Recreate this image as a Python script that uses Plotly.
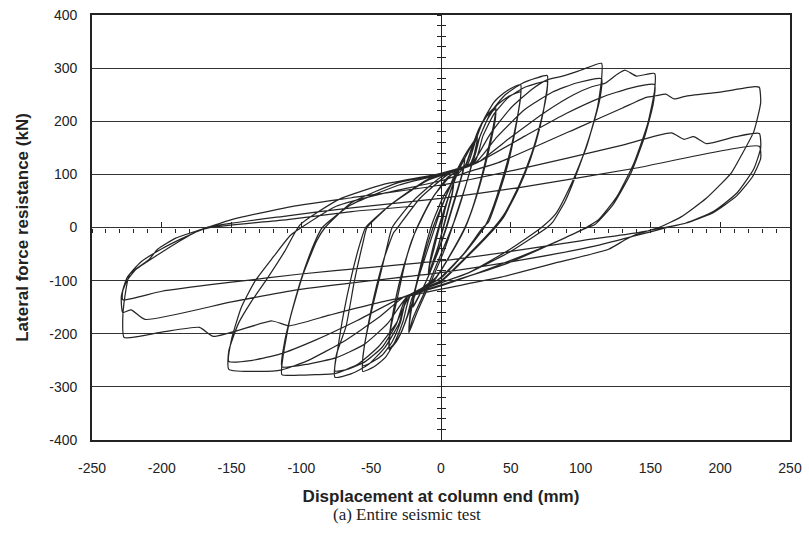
import plotly.graph_objects as go

# Hysteresis path (displacement mm, lateral force kN), grouped by amplitude
loop_09mm = [(0, 0), (3, 35), (6, 62), (9, 85),
             (8, 65), (5, 35), (2, 5), (-2, -35), (-6, -68), (-9, -90),
             (-8, -70), (-5, -40), (-2, -8), (2, 30), (6, 62), (9, 83),
             (8, 62), (5, 32), (2, 2), (-2, -35), (-6, -66), (-9, -88)]

loop_17mm = [(-8, -65), (-5, -30), (0, 15), (5, 55), (10, 90), (14, 115), (17, 131),
             (16, 108), (12, 70), (8, 35), (4, 0), (-2, -45), (-8, -85), (-14, -120), (-20, -150),
             (-19, -125), (-15, -85), (-10, -45), (-5, -5), (0, 35), (6, 75), (12, 108), (17, 128),
             (15, 100), (11, 65), (7, 30), (3, -5), (-3, -50), (-9, -92), (-15, -125), (-20, -147)]

loop_26mm = [(-19, -120), (-15, -85), (-10, -45), (-5, -5), (0, 35), (8, 85), (16, 125), (21, 150), (26, 173),
             (25, 148), (21, 108), (16, 65), (11, 25), (8, 0), (2, -45), (-6, -95), (-13, -135), (-18, -165), (-23, -198),
             (-22, -168), (-19, -125), (-15, -80), (-10, -35), (-5, 5), (2, 50), (10, 100), (18, 140), (26, 170),
             (24, 140), (20, 100), (15, 55), (10, 15), (7, -5), (0, -50), (-8, -100), (-15, -140), (-20, -170), (-23, -195)]

loop_39mm = [(-22, -160), (-18, -110), (-14, -65), (-10, -25), (-6, 10), (2, 60), (12, 100), (18, 118), (23, 155), (28, 190), (33, 212), (39, 226),
             (39, 205), (36, 165), (31, 110), (25, 55), (19, 10), (16, -8), (6, -55), (-5, -100), (-18, -125), (-23, -160), (-28, -195), (-32, -215), (-37, -230),
             (-37, -205), (-34, -155), (-29, -95), (-23, -42), (-18, -5), (-8, 48), (5, 95), (17, 115), (22, 150), (27, 185), (33, 210), (39, 222),
             (38, 198), (34, 150), (29, 95), (23, 40), (18, 5), (8, -45), (-4, -95), (-20, -128), (-24, -165), (-29, -200), (-33, -217), (-37, -227)]

loop_57mm = [(-36, -190), (-31, -130), (-26, -70), (-21, -25), (-16, 5), (-5, 60), (8, 100), (19, 118), (25, 165), (31, 205), (38, 236), (45, 253), (51, 263), (57, 269),
             (57, 245), (54, 198), (49, 138), (42, 75), (35, 22), (31, 0), (18, -45), (0, -95), (-22, -128), (-27, -175), (-33, -215), (-40, -245), (-48, -262), (-56, -271),
             (-56, -245), (-53, -195), (-48, -130), (-41, -60), (-34, -10), (-31, 0), (-15, 55), (5, 100), (21, 120), (27, 165), (33, 202), (40, 230), (48, 246), (57, 255),
             (56, 228), (53, 180), (48, 120), (41, 60), (34, 10), (30, 0), (16, -50), (-2, -98), (-24, -130), (-29, -178), (-35, -215), (-42, -240), (-50, -254), (-56, -260)]

loop_76mm = [(-55, -225), (-50, -160), (-44, -95), (-39, -40), (-35, 0), (-20, 50), (0, 95), (22, 120), (28, 172), (36, 218), (46, 250), (58, 271), (68, 281), (76, 286),
             (76, 258), (72, 205), (65, 140), (56, 80), (46, 28), (38, 0), (20, -50), (0, -100), (-24, -130), (-30, -180), (-40, -225), (-52, -258), (-64, -275), (-76, -282),
             (-75, -240), (-68, -186), (-62, -100), (-56, -30), (-53, 0), (-35, 45), (-10, 90), (24, 122), (30, 172), (38, 214), (48, 244), (60, 264), (76, 275),
             (75, 245), (71, 190), (64, 128), (55, 70), (45, 20), (39, 0), (20, -52), (0, -102), (-25, -132), (-32, -182), (-42, -225), (-54, -252), (-66, -266), (-76, -270)]

loop_115mm = [(-74, -230), (-70, -165), (-64, -90), (-58, -30), (-54, 0), (-35, 45), (-10, 88), (22, 120), (35, 175), (50, 225), (65, 260), (76, 278), (87, 285), (100, 296), (115, 309),
              (115, 278), (112, 225), (104, 150), (93, 80), (82, 25), (72, 0), (50, -40), (20, -85), (-22, -128), (-32, -180), (-45, -225), (-60, -258), (-76, -275), (-90, -277), (-102, -278), (-114, -277),
              (-113, -240), (-108, -170), (-99, -90), (-89, -25), (-83, 0), (-64, 47), (-30, 85), (0, 100), (24, 120), (40, 170), (60, 222), (80, 255), (97, 272), (115, 280),
              (114, 245), (108, 185), (99, 115), (89, 50), (80, 10), (76, 0), (50, -45), (20, -85), (-24, -130), (-38, -180), (-55, -220), (-75, -245), (-95, -257), (-114, -262)]

loop_153mm = [(-112, -215), (-106, -150), (-98, -80), (-90, -25), (-85, 0), (-65, 42), (-30, 80), (0, 100), (26, 122), (50, 170), (75, 218), (95, 250), (108, 265), (118, 272), (126, 288), (132, 296), (140, 285), (153, 290),
              (153, 258), (148, 195), (138, 120), (126, 58), (113, 15), (104, 0), (80, -30), (45, -70), (0, -108), (-26, -130), (-45, -170), (-70, -215), (-95, -250), (-114, -268), (-130, -271), (-152, -267),
              (-152, -232), (-145, -180), (-136, -140), (-125, -98), (-112, -45), (-101, 5), (-73, 53), (-40, 82), (0, 102), (28, 125), (60, 172), (90, 215), (115, 245), (135, 262), (153, 269),
              (152, 232), (146, 172), (136, 102), (123, 42), (110, 5), (105, 0), (80, -30), (40, -72), (0, -110), (-28, -132), (-60, -175), (-90, -212), (-115, -238), (-135, -250), (-152, -252)]

loop_228mm = [(-150, -210), (-143, -150), (-133, -100), (-120, -55), (-108, -15), (-100, 0), (-75, 40), (-40, 65), (0, 88), (20, 105), (41, 122), (100, 190), (130, 225), (147, 245),
              (154, 248), (161, 251), (167, 242), (175, 247), (200, 255), (225, 265), (228, 264),
              (229, 235), (224, 180), (215, 135), (208, 103), (190, 55), (172, 20), (156, 0), (140, -13), (132, -23), (120, -41), (80, -68), (42, -94), (0, -116),
              (-44, -141), (-80, -165), (-109, -185), (-121, -176), (-163, -205), (-173, -188), (-200, -197), (-227, -207),
              (-228, -175), (-227, -140), (-223, -88), (-209, -60), (-203, -41), (-190, -20), (-172, -4), (-150, 15), (-110, 38), (-64, 56), (0, 80), (56, 110), (127, 153),
              (165, 178), (174, 166), (181, 171), (190, 158), (211, 171), (228, 177),
              (229, 150), (224, 110), (212, 65), (195, 30), (175, 8), (162, 0), (140, -15), (110, -35), (60, -60), (0, -85), (-50, -100), (-102, -117), (-150, -140),
              (-212, -173), (-222, -155), (-228, -160),
              (-229, -130), (-225, -95), (-215, -65), (-200, -40), (-185, -20), (-168, 0), (-110, 22), (-64, 37), (0, 55), (56, 75), (140, 112), (228, 153),
              (229, 130), (223, 95), (212, 60), (195, 28), (175, 8), (160, 0), (140, -10), (100, -25), (50, -45), (0, -63), (-50, -75), (-102, -88), (-150, -103),
              (-200, -120), (-228, -136),
              (-228, -120), (-225, -100), (-219, -80), (-205, -55), (-190, -30), (-175, -8), (-165, 0), (-110, 15), (-64, 30), (-20, 40)]

x_ticks = [-250, -200, -150, -100, -50, 0, 50, 100, 150, 200, 250]
y_ticks = [-400, -300, -200, -100, 0, 100, 200, 300, 400]

path = loop_09mm + loop_17mm + loop_26mm + loop_39mm + loop_57mm + loop_76mm + loop_115mm + loop_153mm + loop_228mm
disp = [p[0] for p in path]
force = [p[1] for p in path]

fig = go.Figure()
fig.add_trace(go.Scatter(x=disp, y=force, mode="lines",
                         line=dict(color="#262626", width=1.25, shape="spline", smoothing=0.5),
                         hoverinfo="skip", showlegend=False))
# dummy traces to carry the zero-crossing tick axes
fig.add_trace(go.Scatter(x=[None], y=[None], xaxis="x2", yaxis="y2", showlegend=False, hoverinfo="skip"))
fig.add_trace(go.Scatter(x=[None], y=[None], xaxis="x3", yaxis="y3", showlegend=False, hoverinfo="skip"))

font_sans = "Liberation Sans, Arial, sans-serif"
tick_common = dict(showgrid=False, zeroline=False, showticklabels=False, automargin=False,
                   tickmode="linear", tick0=0, tickwidth=1, tickcolor="#222")
fig.update_layout(
    width=809, height=547,
    margin=dict(l=92, r=19, t=15, b=107, autoexpand=False),
    paper_bgcolor="white", plot_bgcolor="white",
    font=dict(family=font_sans, size=14, color="#222"),
    xaxis=dict(range=[-250, 250], tickvals=x_ticks, ticktext=[str(v) for v in x_ticks],
               showgrid=False, zeroline=False, showline=True, mirror=True, automargin=False,
               linecolor="#222", linewidth=1.6, ticks="", ticklabelstandoff=14,
               title=dict(text="<b>Displacement at column end (mm)</b>", font=dict(size=17, color="#222"), standoff=16)),
    yaxis=dict(range=[-400, 400], tickvals=y_ticks, ticktext=[str(v) for v in y_ticks],
               showgrid=True, gridcolor="#333", gridwidth=1.1, zeroline=False, automargin=False,
               showline=True, mirror=True, linecolor="#222", linewidth=1.6, ticks="", ticklabelstandoff=10,
               title=dict(text="<b>Lateral force resistance (kN)</b>", font=dict(size=17, color="#222"), standoff=16)),
    xaxis2=dict(overlaying="x", anchor="free", position=0.5, range=[-250, 250], showline=False,
                dtick=10, ticks="outside", ticklen=4, **tick_common),
    yaxis2=dict(overlaying="y", anchor="free", position=0.5, range=[-400, 400],
                showline=True, linecolor="#222", linewidth=1.2,
                dtick=20, ticks="outside", ticklen=4, **tick_common),
    xaxis3=dict(overlaying="x", anchor="free", position=0.5, range=[-250, 250], showline=False,
                dtick=50, ticks="inside", ticklen=6, **tick_common),
    yaxis3=dict(overlaying="y", anchor="free", position=0.5, range=[-400, 400], showline=False,
                dtick=20, ticks="inside", ticklen=4, **tick_common),
    annotations=[dict(text="(a) Entire seismic test", xref="paper", yref="paper",
                      x=0.451, y=-0.176, xanchor="center", yanchor="middle", showarrow=False,
                      font=dict(family="Liberation Serif, Times New Roman, serif", size=17, color="#222"))],
)

fig.write_html("out.html")
